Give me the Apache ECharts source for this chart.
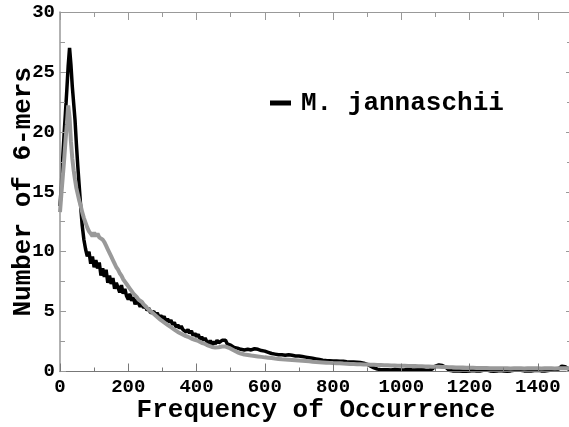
<!DOCTYPE html>
<html>
<head>
<meta charset="utf-8">
<script src="https://cdn.jsdelivr.net/npm/echarts@6/dist/echarts.min.js"></script>
<style>
html,body{margin:0;padding:0;background:#fff;}
#chart{width:569px;height:427px;}
</style>
</head>
<body>
<div id="chart"></div>
<script>
// Frequency sample positions (x)
var freqHead = [0,4,8,12,16,20,24,28,32,36,40,44,48,52,56,60,65];
var freq = freqHead.slice();
for (var a = 70; a < 500; a += 5) freq.push(a);
for (var b = 500; b <= 1500; b += 10) freq.push(b);

// M. jannaschii (black)
var jannaschii = [
  // 0 - 65
  13.8,15.6,17.8,19.8,21.6,23.5,25.5,27.0,25.6,23.8,
  22.4,21.0,19.0,17.2,15.6,14.0,12.2,
  // 70 - 495 (step 5)
  11.0,10.2,9.6,10.0,9.0,9.6,8.7,9.3,8.6,9.1,
  8.0,8.6,7.9,8.5,7.4,8.0,7.3,7.8,6.9,7.4,
  7.0,6.6,7.2,6.5,6.9,6.3,6.0,6.5,5.9,6.2,
  5.6,6.0,5.7,5.4,5.8,5.3,5.5,5.1,5.3,4.9,
  4.8,5.0,4.7,4.9,4.5,4.7,4.4,4.6,4.2,4.4,
  4.1,4.3,3.9,4.1,3.7,3.9,3.6,3.8,3.5,3.6,
  3.3,3.5,3.2,3.4,3.0,3.2,2.9,3.1,2.7,2.9,
  2.6,2.8,2.5,2.1,2.6,2.2,2.5,2.3,2.6,2.4,
  2.4,2.6,2.5,2.6,2.3,2.4,
  // 500 - 1500 (step 10)
  2.2,2.0,1.95,1.85,1.8,1.85,1.8,1.9,1.85,1.75,
  1.7,1.6,1.5,1.45,1.4,1.4,1.35,1.4,1.35,1.3,
  1.3,1.25,1.2,1.15,1.1,1.05,1.0,0.95,0.92,0.9,
  0.88,0.88,0.85,0.85,0.82,0.8,0.8,0.78,0.75,0.7,
  0.6,0.45,0.3,0.2,0.15,0.15,0.15,0.12,0.18,0.15,
  0.12,0.15,0.2,0.15,0.12,0.15,0.18,0.12,0.1,0.2,
  0.45,0.55,0.5,0.35,0.1,0.05,0.05,0.04,0.03,0.03,
  0.05,0.08,0.05,0.04,0.1,0.12,0.05,0.03,0.05,0.08,
  0.05,0.03,0.05,0.1,0.15,0.1,0.05,0.04,0.05,0.08,
  0.1,0.05,0.05,0.08,0.12,0.1,0.2,0.45,0.4,0.2,
  0.1
];

// Comparison curve (grey)
var comparison = [
  // 0 - 65
  13.3,14.8,16.2,17.6,19.2,20.6,22.2,21.2,19.2,17.8,
  16.8,16.0,15.3,14.8,14.3,13.9,13.3,
  // 70 - 495 (step 5)
  12.8,12.4,12.0,11.7,11.5,11.3,11.6,11.3,11.5,11.2,
  11.3,11.0,10.8,10.5,10.2,9.9,9.6,9.3,9.0,8.7,
  8.5,8.2,8.0,7.7,7.5,7.3,7.1,6.9,6.7,6.5,
  6.4,6.2,6.0,5.9,5.8,5.6,5.45,5.3,5.2,5.05,
  4.95,4.8,4.7,4.55,4.4,4.3,4.2,4.1,4.0,3.9,
  3.8,3.7,3.6,3.5,3.4,3.3,3.25,3.15,3.1,3.0,
  2.95,2.9,2.8,2.75,2.7,2.65,2.6,2.55,2.5,2.4,
  2.35,2.3,2.2,2.15,2.1,2.05,2.0,2.0,2.0,2.02,
  2.05,2.08,2.1,2.08,2.05,1.98,
  // 500 - 1500 (step 10)
  1.9,1.75,1.6,1.5,1.42,1.38,1.33,1.3,1.26,1.22,
  1.18,1.15,1.12,1.08,1.05,1.02,1.0,0.98,0.96,0.94,
  0.92,0.9,0.88,0.85,0.82,0.8,0.78,0.76,0.74,0.72,
  0.7,0.69,0.68,0.66,0.65,0.63,0.62,0.61,0.6,0.59,
  0.58,0.57,0.56,0.55,0.54,0.53,0.52,0.51,0.5,0.49,
  0.48,0.47,0.46,0.46,0.45,0.44,0.43,0.42,0.41,0.4,
  0.4,0.39,0.38,0.37,0.36,0.35,0.34,0.33,0.33,0.32,
  0.31,0.31,0.3,0.3,0.29,0.29,0.28,0.28,0.28,0.27,
  0.27,0.27,0.26,0.27,0.28,0.27,0.26,0.27,0.27,0.28,
  0.27,0.26,0.27,0.28,0.27,0.26,0.27,0.27,0.28,0.27,
  0.27
];

var xTitle = 'Frequency of Occurrence';
var yTitle = 'Number of 6-mers';
var legendName = 'M. jannaschii';

function pairs(ys){ return freq.map(function(x,i){ return [x, ys[i]]; }); }
function plain(v){ return String(v); }

var font = '"Liberation Mono","Courier New",monospace';
var chart = echarts.init(document.getElementById('chart'), null, {renderer:'canvas'});
var axisGray = '#999999';
chart.setOption({
  animation: false,
  backgroundColor: '#ffffff',
  grid: { left: 60, top: 12, width: 512, height: 359.5, containLabel: false, outerBoundsMode: 'none' },
  legend: {
    data: [legendName],
    left: 270, top: 90, padding: 0,
    icon: 'rect', itemWidth: 21, itemHeight: 5, itemGap: 10,
    textStyle: { fontFamily: font, fontWeight: 'bold', fontSize: 26, color: '#000', padding: [0, 0, 0, 5] }
  },
  xAxis: [{
    type: 'value', min: 0, max: 1500, interval: 200, z: 10,
    position: 'bottom',
    name: xTitle, nameLocation: 'middle', nameGap: 26, nameMoveOverlap: false,
    nameTextStyle: { fontFamily: font, fontWeight: 'bold', fontSize: 26, color: '#000' },
    axisLine: { show: true, onZero: false, lineStyle: { color: '#777', width: 1 } },
    axisTick: { show: true, inside: true, length: 8, lineStyle: { color: '#777' } },
    minorTick: { show: true, splitNumber: 2, length: 4, lineStyle: { color: '#777' } },
    axisLabel: { fontFamily: font, fontWeight: 'bold', fontSize: 19, color: '#000', margin: 6, showMaxLabel: false, formatter: plain },
    splitLine: { show: false }
  }, {
    type: 'value', min: 0, max: 1500, interval: 200, z: 10,
    position: 'top',
    axisLine: { show: true, onZero: false, lineStyle: { color: axisGray, width: 1 } },
    axisTick: { show: true, inside: true, length: 8, lineStyle: { color: axisGray } },
    minorTick: { show: true, splitNumber: 2, length: 5, lineStyle: { color: axisGray } },
    axisLabel: { show: false },
    splitLine: { show: false }
  }],
  yAxis: [{
    type: 'value', min: 0, max: 30, interval: 5, z: 10,
    position: 'left',
    name: yTitle, nameLocation: 'middle', nameGap: 24, nameMoveOverlap: false,
    nameTextStyle: { fontFamily: font, fontWeight: 'bold', fontSize: 26, color: '#000' },
    axisLine: { show: true, onZero: false, lineStyle: { color: axisGray, width: 1.5 } },
    axisTick: { show: true, inside: true, length: 6, lineStyle: { color: axisGray } },
    minorTick: { show: true, splitNumber: 2, length: 5, lineStyle: { color: axisGray } },
    axisLabel: { fontFamily: font, fontWeight: 'bold', fontSize: 19, color: '#000', margin: 5, formatter: plain },
    splitLine: { show: false }
  }, {
    type: 'value', min: 0, max: 30, interval: 5, z: 10,
    position: 'right',
    axisLine: { show: true, onZero: false, lineStyle: { color: axisGray } },
    axisTick: { show: true, inside: true, length: 6, lineStyle: { color: axisGray } },
    minorTick: { show: true, splitNumber: 2, length: 5, lineStyle: { color: axisGray } },
    axisLabel: { show: false },
    splitLine: { show: false }
  }],
  series: [{
    name: legendName, type: 'line', xAxisIndex: 0, yAxisIndex: 0,
    data: pairs(jannaschii), showSymbol: false, symbol: 'none',
    lineStyle: { color: '#000', width: 3.5 }, itemStyle: { color: '#000' }, z: 2
  }, {
    name: 'comparison', type: 'line', xAxisIndex: 0, yAxisIndex: 0,
    data: pairs(comparison), showSymbol: false, symbol: 'none',
    lineStyle: { color: '#999999', width: 4 }, itemStyle: { color: '#999999' }, z: 3
  }]
});
</script>
</body>
</html>
